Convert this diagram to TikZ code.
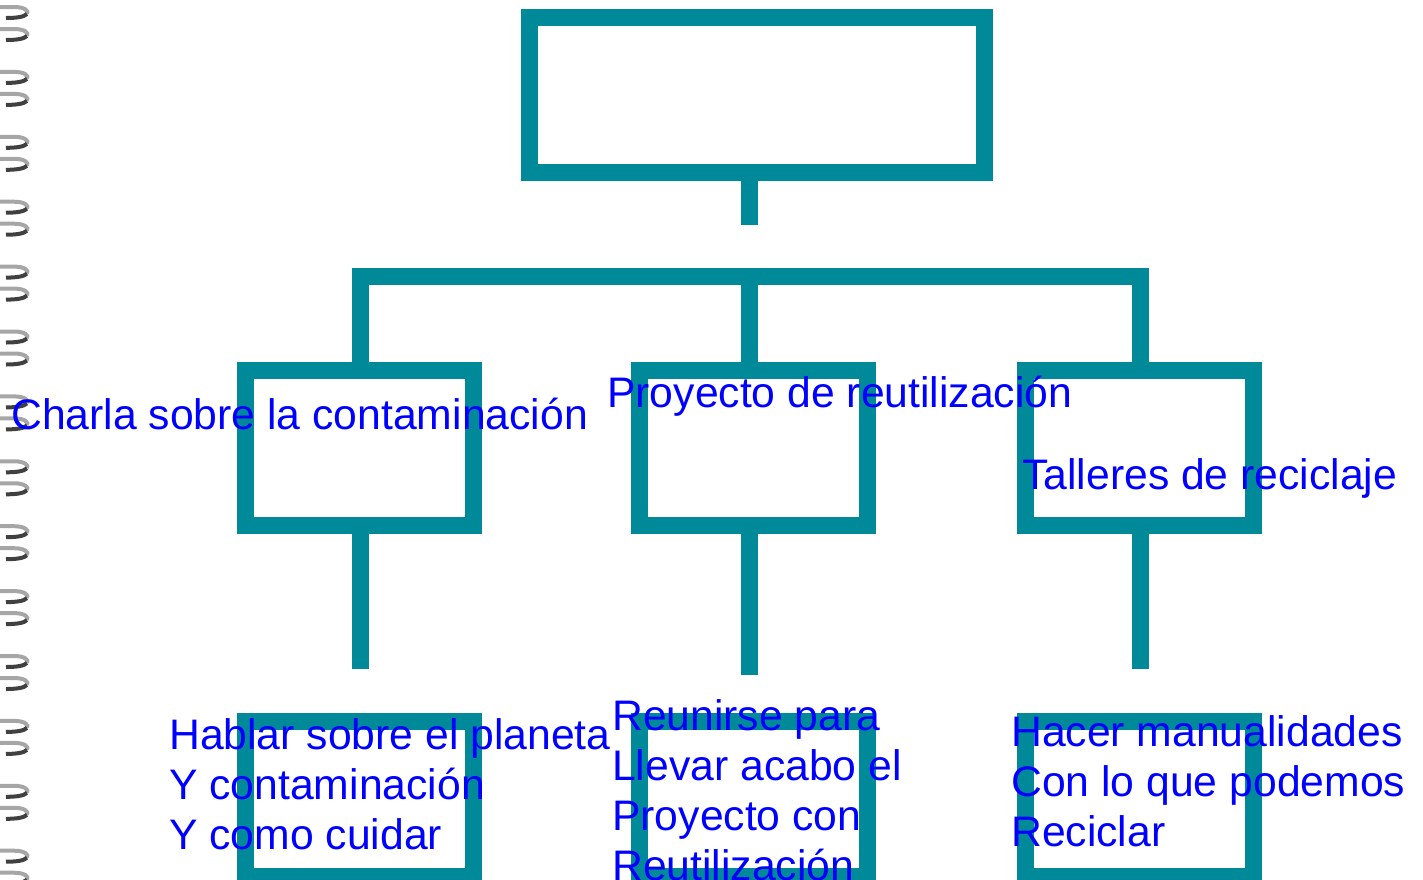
\documentclass[tikz,border=0pt]{standalone}
\usepackage{fontspec}
\setmainfont{Liberation Sans}
\definecolor{teal1}{RGB}{0,138,153}
\definecolor{txtblue}{RGB}{0,0,255}
\tikzset{
  box/.style={draw=teal1, line width=17pt, minimum width=228pt, minimum height=155pt, inner sep=0pt},
  conn/.style={draw=teal1, line width=17pt},
  lbl/.style={anchor=base west, inner sep=0pt, text=txtblue, font=\fontsize{42.7}{50}\selectfont},
  ringtop/.style={draw=black!35, line width=4pt},
  ringbot/.style={draw=black!75, line width=4pt},
}
\begin{document}
\begin{tikzpicture}[x=1pt, y=-1pt]
\useasboundingbox (0,0) rectangle (1423,879);
\clip (0,0) rectangle (1423,879);
% spiral binding
\foreach \i in {0,...,13}{
  \foreach \o in {12,34}{
    \pgfmathsetmacro{\yy}{\o+64.9*\i}
    \draw[ringtop] (0,\yy-5) -- (14,\yy-5) .. controls (25,\yy-5) and (29,\yy-1) .. (27,\yy+2);
    \draw[ringbot] (27,\yy+2) .. controls (24,\yy+5) and (16,\yy+6) .. (6,\yy+6);
  }
}
% boxes
\node[box, minimum width=455pt] (top) at (757,95) {};
\node[box] (m1) at (359.5,448) {};
\node[box] (m2) at (753.5,448) {};
\node[box] (m3) at (1139.5,448) {};
\node[box] (b1) at (359.5,799) {};
\node[box] (b2) at (753.5,799) {};
\node[box] (b3) at (1139.5,799) {};
% connectors
\coordinate (s0) at (749.5,225);
\coordinate (barL) at (360,276.5);
\coordinate (barM) at (749.5,276.5);
\coordinate (barR) at (1140,276.5);
\coordinate (e1) at (360,669);
\coordinate (e2) at (749.5,675);
\coordinate (e3) at (1140,669);
\draw[conn] (top.south -| s0) -- (s0);
\draw[conn] (m1.north -| barL) -- (barL) -- (barR) -- (m3.north -| barR);
\draw[conn] (barM) -- (m2.north -| barM);
\draw[conn] (m1.south -| e1) -- (e1);
\draw[conn] (m2.south -| e2) -- (e2);
\draw[conn] (m3.south -| e3) -- (e3);
% texts
\node[lbl] (t1) at (11,429) {Charla sobre la contaminación};
\node[lbl] (t2) at (607,407) {Proyecto de reutilización};
\node[lbl] (t3) at (1022,489) {Talleres de reciclaje};
\node[lbl] (t4) at (169,749) {\vtop{\hbox{Hablar sobre el planeta}\hbox{Y contaminación}\hbox{Y como cuidar}}};
\node[lbl] (t5) at (612,730) {\vtop{\hbox{Reunirse para}\hbox{Llevar acabo el}\hbox{Proyecto con}\hbox{Reutilización}}};
\node[lbl] (t6) at (1011,746) {\vtop{\hbox{Hacer manualidades}\hbox{Con lo que podemos}\hbox{Reciclar}}};
\end{tikzpicture}
\end{document}
